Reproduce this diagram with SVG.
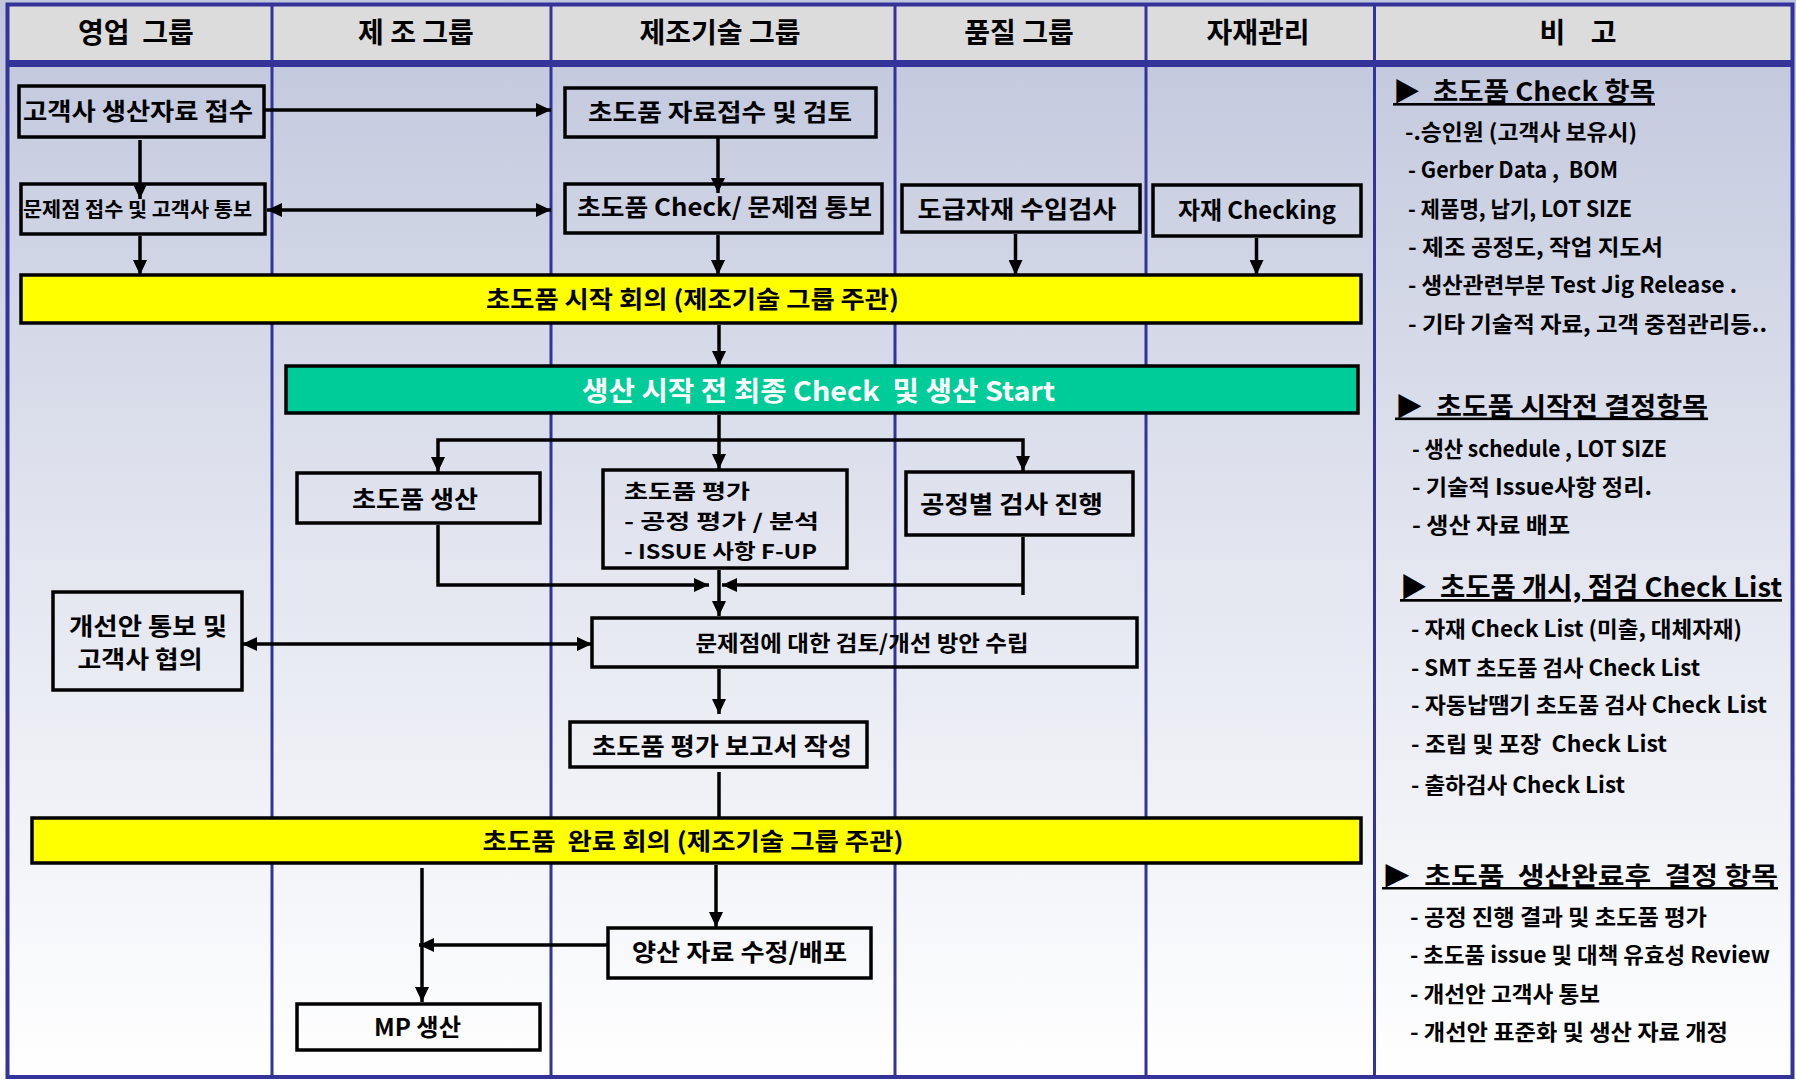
<svg xmlns="http://www.w3.org/2000/svg" width="1796" height="1080" viewBox="0 0 1796 1080">
<style>
text{font-family:"Noto Sans CJK KR","Noto Sans",sans-serif;font-weight:bold;fill:#000}
.hd{font-size:28px;text-anchor:middle}
.t{font-size:24px;text-anchor:middle}
.tl{font-size:20.5px}
.r{font-size:22px}
.rh{font-size:26px;text-decoration:underline}
.box{fill:none;stroke:#000;stroke-width:3.5}
.bar{stroke:#000;stroke-width:3.5}
.ln{fill:none;stroke:#000;stroke-width:3.5}
.arr{marker-end:url(#ah)}
.dbl{marker-start:url(#ah);marker-end:url(#ah)}
.frame{fill:none;stroke:#333399}
</style>
<defs>
<linearGradient id="bg" x1="0" y1="0" x2="0" y2="1">
<stop offset="0" stop-color="#C0C6DC"/>
<stop offset="0.5" stop-color="#E2E5EF"/>
<stop offset="1" stop-color="#FFFFFF"/>
</linearGradient>
<marker id="ah" markerUnits="userSpaceOnUse" markerWidth="16" markerHeight="14" refX="15" refY="7" orient="auto-start-reverse">
<path d="M0,0 L15,7 L0,14 z" fill="#000"/>
</marker>
</defs>

<g id="background">
<rect x="0" y="0" width="1796" height="1080" fill="url(#bg)"/>
<rect x="8" y="5" width="1783" height="56" fill="#DCDCDC"/>
<rect x="7" y="60" width="1786" height="7" fill="#333399"/>
<rect class="frame" x="7.5" y="4.5" width="1785" height="1072.5" stroke-width="4"/>
<g class="frame" stroke-width="3">
<line x1="272" y1="5" x2="272" y2="1077"/>
<line x1="551" y1="5" x2="551" y2="1077"/>
<line x1="895" y1="5" x2="895" y2="1077"/>
<line x1="1146" y1="5" x2="1146" y2="1077"/>
<line x1="1374.5" y1="5" x2="1374.5" y2="1077"/>
</g>
</g>

<g id="headers">
<text class="hd" x="136" y="43" xml:space="preserve">영업  그룹</text>
<text class="hd" x="416" y="43">제 조 그룹</text>
<text class="hd" x="720" y="43">제조기술 그룹</text>
<text class="hd" x="1019" y="43">품질 그룹</text>
<text class="hd" x="1258" y="43">자재관리</text>
<text class="hd" x="1578" y="43" xml:space="preserve">비    고</text>
</g>

<g id="n-receive">
<rect class="box" x="19" y="86" width="245" height="51"/>
<text class="t" x="138" y="120" textLength="230" lengthAdjust="spacingAndGlyphs">고객사 생산자료 접수</text>
</g>
<g id="n-issue-notify">
<rect class="box" x="21" y="184" width="244" height="50"/>
<text class="t" x="137.5" y="216.5" style="font-size:20px" textLength="229" lengthAdjust="spacingAndGlyphs">문제점 접수 및 고객사 통보</text>
</g>
<g id="n-review">
<rect class="box" x="565" y="88" width="311" height="49"/>
<text class="t" x="720" y="121" textLength="264" lengthAdjust="spacingAndGlyphs">초도품 자료접수 및 검토</text>
</g>
<g id="n-check">
<rect class="box" x="565" y="184" width="317" height="49"/>
<text class="t" x="724.5" y="216" textLength="295" lengthAdjust="spacingAndGlyphs">초도품 Check/ 문제점 통보</text>
</g>
<g id="n-incoming">
<rect class="box" x="902" y="185" width="238" height="47"/>
<text class="t" x="1017" y="218" textLength="199" lengthAdjust="spacingAndGlyphs">도급자재 수입검사</text>
</g>
<g id="n-material">
<rect class="box" x="1153" y="185" width="208" height="51"/>
<text class="t" x="1257" y="219" textLength="158" lengthAdjust="spacingAndGlyphs">자재 Checking</text>
</g>
<g id="n-kickoff">
<rect class="bar" x="21" y="275" width="1340" height="48" fill="#FFFF00"/>
<text class="t" x="692.5" y="308" textLength="413" lengthAdjust="spacingAndGlyphs">초도품 시작 회의 (제조기술 그룹 주관)</text>
</g>
<g id="n-final-check">
<rect class="bar" x="286" y="366" width="1072" height="47" fill="#00CC99"/>
<text class="t" x="818.5" y="401" style="font-size:27px;fill:#fff" textLength="473" lengthAdjust="spacingAndGlyphs" xml:space="preserve">생산 시작 전 최종 Check  및 생산 Start</text>
</g>
<g id="n-first-prod">
<rect class="box" x="297" y="473" width="243" height="50"/>
<text class="t" x="415" y="508" textLength="126" lengthAdjust="spacingAndGlyphs">초도품 생산</text>
</g>
<g id="n-eval">
<rect class="box" x="603" y="470" width="244" height="98"/>
<text class="tl" x="624" y="499" textLength="126" lengthAdjust="spacingAndGlyphs">초도품 평가</text>
<text class="tl" x="624" y="529" textLength="195" lengthAdjust="spacingAndGlyphs">- 공정 평가 / 분석</text>
<text class="tl" x="624" y="559" textLength="193" lengthAdjust="spacingAndGlyphs">- ISSUE 사항 F-UP</text>
</g>
<g id="n-process-insp">
<rect class="box" x="906" y="472" width="227" height="63"/>
<text class="t" x="1011.5" y="513" textLength="183" lengthAdjust="spacingAndGlyphs">공정별 검사 진행</text>
</g>
<g id="n-improve-notify">
<rect class="box" x="53" y="592" width="189" height="98"/>
<text class="t" x="148" y="635" textLength="158" lengthAdjust="spacingAndGlyphs">개선안 통보 및</text>
<text class="t" x="140" y="668" textLength="125" lengthAdjust="spacingAndGlyphs">고객사 협의</text>
</g>
<g id="n-countermeasure">
<rect class="box" x="592" y="618" width="545" height="49"/>
<text class="t" x="862" y="651" style="font-size:22px" textLength="333" lengthAdjust="spacingAndGlyphs">문제점에 대한 검토/개선 방안 수립</text>
</g>
<g id="n-report">
<rect class="box" x="570" y="722" width="297" height="45"/>
<text class="t" x="722" y="755" textLength="260" lengthAdjust="spacingAndGlyphs">초도품 평가 보고서 작성</text>
</g>
<g id="n-closing">
<rect class="bar" x="32" y="818" width="1329" height="45" fill="#FFFF00"/>
<text class="t" x="693" y="850" textLength="421" lengthAdjust="spacingAndGlyphs" xml:space="preserve">초도품  완료 회의 (제조기술 그룹 주관)</text>
</g>
<g id="n-mass-data">
<rect class="box" x="608" y="928" width="263" height="50"/>
<text class="t" x="739.5" y="961" textLength="215" lengthAdjust="spacingAndGlyphs">양산 자료 수정/배포</text>
</g>
<g id="n-mp">
<rect class="box" x="297" y="1004" width="243" height="46"/>
<text class="t" x="417.5" y="1036" textLength="87" lengthAdjust="spacingAndGlyphs">MP 생산</text>
</g>

<g id="connectors">
<path class="ln arr" d="M264,110 H551"/>
<path class="ln dbl" d="M267,210 H551"/>
<path class="ln arr" d="M140,140 V199"/>
<path class="ln arr" d="M140,236 V275"/>
<path class="ln arr" d="M718,137 V193"/>
<path class="ln arr" d="M718,235 V275"/>
<path class="ln arr" d="M1015.5,234 V275"/>
<path class="ln arr" d="M1256.5,238 V275"/>
<path class="ln arr" d="M719,325 V366"/>
<path class="ln arr" d="M719,415 V469"/>
<path class="ln arr" d="M719,440 H438 V472"/>
<path class="ln arr" d="M719,440 H1023 V471"/>
<path class="ln arr" d="M438,525 V585 H709"/>
<path class="ln arr" d="M1023,537 V595 M1023,585 H722"/>
<path class="ln arr" d="M719,570 V616"/>
<path class="ln dbl" d="M242,644 H592"/>
<path class="ln arr" d="M719,669 V714"/>
<path class="ln" d="M719,772 V818"/>
<path class="ln arr" d="M716,865 V927"/>
<path class="ln arr" d="M608,945 H419"/>
<path class="ln arr" d="M422,868 V1002"/>
</g>

<g id="notes">
<text class="rh" x="1393" y="101" textLength="262" lengthAdjust="spacingAndGlyphs" xml:space="preserve">▶  초도품 Check 항목</text>
<text class="r" x="1405" y="140" textLength="232" lengthAdjust="spacingAndGlyphs">-.승인원 (고객사 보유시)</text>
<text class="r" x="1408" y="178" textLength="210" lengthAdjust="spacingAndGlyphs" xml:space="preserve">- Gerber Data ,  BOM</text>
<text class="r" x="1408" y="216.5" textLength="224" lengthAdjust="spacingAndGlyphs">- 제품명, 납기, LOT SIZE</text>
<text class="r" x="1408" y="255" textLength="255" lengthAdjust="spacingAndGlyphs">- 제조 공정도, 작업 지도서</text>
<text class="r" x="1408" y="293" textLength="329" lengthAdjust="spacingAndGlyphs">- 생산관련부분 Test Jig Release .</text>
<text class="r" x="1408" y="331.5" textLength="359" lengthAdjust="spacingAndGlyphs">- 기타 기술적 자료, 고객 중점관리등..</text>

<text class="rh" x="1395" y="415.5" textLength="313" lengthAdjust="spacingAndGlyphs" xml:space="preserve">▶  초도품 시작전 결정항목</text>
<text class="r" x="1412" y="457" textLength="255" lengthAdjust="spacingAndGlyphs">- 생산 schedule , LOT SIZE</text>
<text class="r" x="1412" y="495" textLength="240" lengthAdjust="spacingAndGlyphs">- 기술적 Issue사항 정리.</text>
<text class="r" x="1412" y="533" textLength="158" lengthAdjust="spacingAndGlyphs">- 생산 자료 배포</text>

<text class="rh" x="1400" y="597" style="font-size:27px" textLength="382" lengthAdjust="spacingAndGlyphs" xml:space="preserve">▶  초도품 개시, 점검 Check List</text>
<text class="r" x="1411" y="637" textLength="331" lengthAdjust="spacingAndGlyphs">- 자재 Check List (미출, 대체자재)</text>
<text class="r" x="1411" y="676" textLength="289" lengthAdjust="spacingAndGlyphs">- SMT 초도품 검사 Check List</text>
<text class="r" x="1411" y="713" textLength="356" lengthAdjust="spacingAndGlyphs">- 자동납땜기 초도품 검사 Check List</text>
<text class="r" x="1411" y="751.5" textLength="256" lengthAdjust="spacingAndGlyphs" xml:space="preserve">- 조립 및 포장  Check List</text>
<text class="r" x="1411" y="793" textLength="214" lengthAdjust="spacingAndGlyphs">- 출하검사 Check List</text>

<text class="rh" x="1382" y="885" style="font-size:25px" textLength="396" lengthAdjust="spacingAndGlyphs" xml:space="preserve">▶  초도품  생산완료후  결정 항목</text>
<text class="r" x="1410" y="925" textLength="297" lengthAdjust="spacingAndGlyphs">- 공정 진행 결과 및 초도품 평가</text>
<text class="r" x="1410" y="963" textLength="360" lengthAdjust="spacingAndGlyphs">- 초도품 issue 및 대책 유효성 Review</text>
<text class="r" x="1410" y="1002" textLength="190" lengthAdjust="spacingAndGlyphs">- 개선안 고객사 통보</text>
<text class="r" x="1410" y="1040" textLength="318" lengthAdjust="spacingAndGlyphs">- 개선안 표준화 및 생산 자료 개정</text>
</g>
</svg>
